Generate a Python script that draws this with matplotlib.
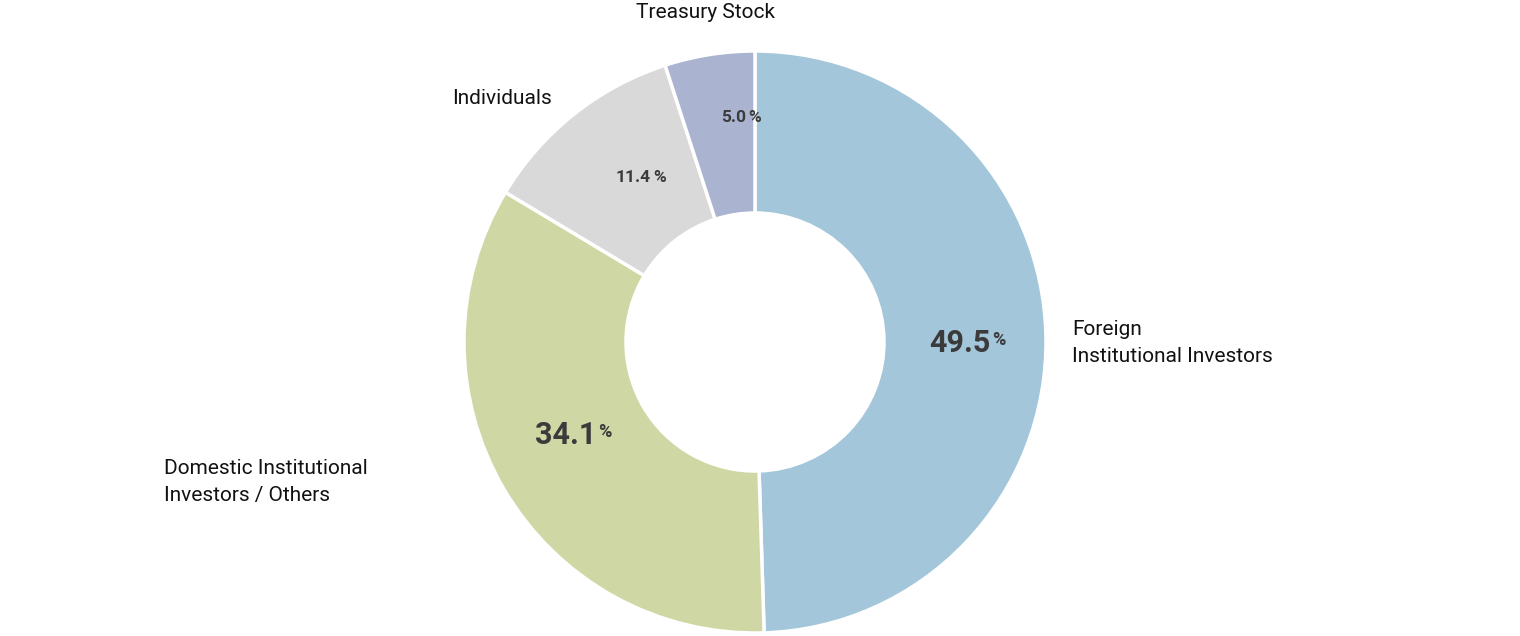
import matplotlib
matplotlib.use("Agg")
import matplotlib.pyplot as plt

categories = ["Foreign\nInstitutional Investors", "Domestic Institutional\nInvestors / Others",
              "Individuals", "Treasury Stock"]
shares = [49.5, 34.1, 11.4, 5.0]
colors = ["#a3c6da", "#cfd8a4", "#d9d9d9", "#aab4d1"]

W, H = 1520, 636
fig = plt.figure(figsize=(W / 100, H / 100), dpi=100)
ax = fig.add_axes([0, 0, 1, 1])
plt.rcParams["font.family"] = "Roboto"

cx, cy, R, r = 755, H - 342, 291, 129
ax.pie(shares, colors=colors, startangle=90, counterclock=False,
       center=(cx, cy), radius=R,
       wedgeprops=dict(width=R - r, edgecolor="white", linewidth=2.5))
ax.set_xlim(0, W)
ax.set_ylim(0, H)
ax.set_aspect("equal")
ax.axis("off")

dark = "#3b3b3b"
# percentage labels: (split x, y px, number size, % size)
pct_pos = [(990, 343, 22, 13), (596, 435, 22, 13), (651, 178, 12.5, 12.5), (746, 118, 12.5, 12.5)]
for v, (sx, sy, s1, s2) in zip(shares, pct_pos):
    ax.text(sx, H - sy, f"{v:.1f}", ha="right", va="center", fontsize=s1,
            fontweight="bold", color=dark)
    ax.text(sx + 2, H - sy + (3 if s1 > s2 else 0), "%", ha="left", va="center",
            fontsize=s2, fontweight="bold", color=dark)

lab_pos = [(1072, 343, "left"), (164, 482, "left"), (552, 98, "right"), (706, 13, "center")]
for name, (x, y, ha) in zip(categories, lab_pos):
    ax.text(x, H - y, name, ha=ha, va="center", fontsize=15, color="#111111",
            linespacing=1.55)

fig.savefig("out.png", dpi=100)
